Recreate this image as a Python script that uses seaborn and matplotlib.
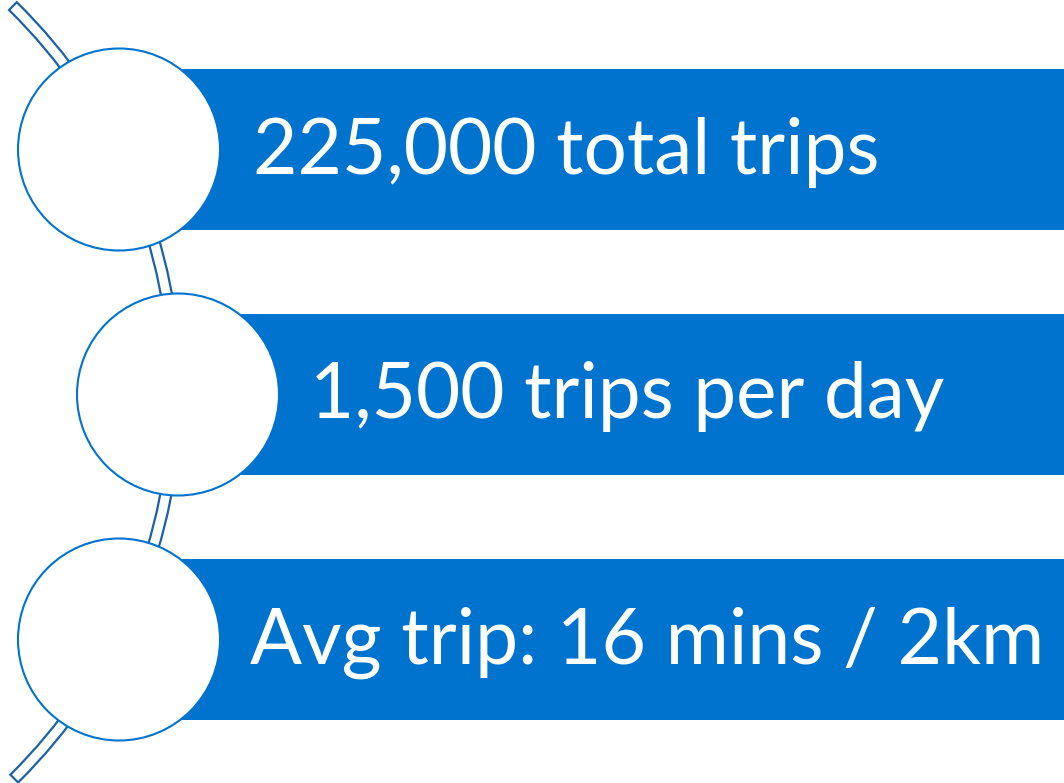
import matplotlib
matplotlib.use("Agg")
import matplotlib.pyplot as plt
from matplotlib.patches import Circle, Wedge
import seaborn as sns

# data
labels = ["225,000 total trips", "1,500 trips per day", "Avg trip: 16 mins / 2km"]
row_y = [149.5, 394.5, 639.5]          # centre of each row (px, top-down)
circle_x = [119, 178, 119]             # circle centre x
text_x = [253, 310, 250]               # text start
text_w = [627, 635, 795]               # width the text spans in the reference

BLUE = "#0073CF"
DARK = "#1a62a8"
W, H = 1064, 783

sns.set_theme(style="white")
plt.rcParams["font.family"] = ["Lato", "DejaVu Sans"]

fig = plt.figure(figsize=(W / 100, H / 100), dpi=100)
ax = fig.add_axes([0, 0, 1, 1])
ax.set_xlim(0, W)
ax.set_ylim(H, 0)
ax.axis("off")

# bars
bar_h = 161
ax.barh(row_y, [W - x for x in circle_x], left=circle_x, height=bar_h,
        color=BLUE, edgecolor="none", zorder=1)

# curved band behind the circles
band = Wedge((-366, 393), 547, -45.6, 45.4, width=11,
             facecolor="white", edgecolor=DARK, lw=1.6, zorder=2)
ax.add_patch(band)

# circles
for cx, cy in zip(circle_x, row_y):
    ax.add_patch(Circle((cx, cy), 101, facecolor="white", edgecolor=BLUE,
                        lw=1.5, zorder=3))

# text, sized to the width it takes in the reference
fig.canvas.draw()
renderer = fig.canvas.get_renderer()
for lab, x, y, w in zip(labels, text_x, row_y, text_w):
    t = ax.text(x, y + 24, lab, color="white", fontsize=50, va="baseline",
                ha="left", zorder=4)
    bb = t.get_window_extent(renderer)
    t.set_fontsize(50 * w / bb.width)

fig.savefig("out.png", dpi=100)
